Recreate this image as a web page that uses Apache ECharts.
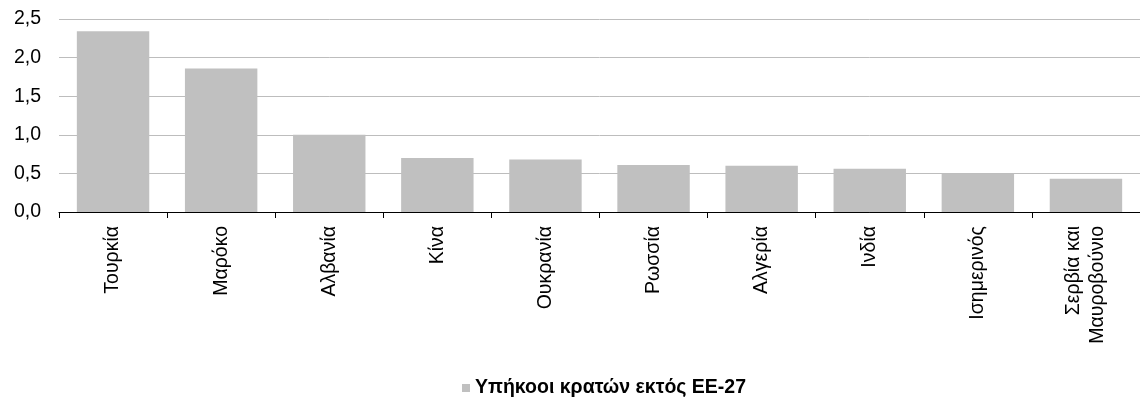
<!DOCTYPE html>
<html>
<head>
<meta charset="utf-8">
<script src="https://cdn.jsdelivr.net/npm/echarts@6/dist/echarts.min.js"></script>
<style>
  html, body { margin: 0; padding: 0; background: #fff; }
  #chart { width: 1140px; height: 405px; }
</style>
</head>
<body>
<div id="chart"></div>
<script>
const categories = ['Τουρκία', 'Μαρόκο', 'Αλβανία', 'Κίνα', 'Ουκρανία', 'Ρωσσία', 'Αλγερία', 'Ινδία', 'Ισημερινός', 'Σερβία και\nΜαυροβούνιο'];
const values = [2.34, 1.86, 1.00, 0.70, 0.68, 0.61, 0.60, 0.56, 0.50, 0.43];
const seriesName = 'Υπήκοοι κρατών εκτός ΕΕ-27';

const FONT = '"Liberation Sans", Arial, sans-serif';
const chart = echarts.init(document.getElementById('chart'), null, { renderer: 'canvas' });
chart.setOption({
  animation: false,
  textStyle: { fontFamily: FONT },
  grid: { left: 59, right: 0, top: 19, bottom: 193, containLabel: false },
  legend: {
    data: [seriesName],
    left: 462,
    top: 378,
    icon: 'rect',
    itemWidth: 8,
    itemHeight: 8,
    itemGap: 5,
    padding: 0,
    textStyle: { fontSize: 19.5, fontWeight: 'bold', color: '#000', fontFamily: FONT, padding: [0, 0, 0, 0] }
  },
  xAxis: {
    type: 'category',
    data: categories,
    boundaryGap: true,
    axisLine: { lineStyle: { color: '#000', width: 1 } },
    axisTick: { show: true, length: 6, lineStyle: { color: '#000' } },
    axisLabel: {
      interval: 0,
      rotate: 90,
      margin: 14,
      fontSize: 19.5,
      color: '#000',
      lineHeight: 24
    }
  },
  yAxis: {
    type: 'value',
    min: 0,
    max: 2.5,
    interval: 0.5,
    axisLine: { show: false },
    axisTick: { show: false },
    splitLine: { lineStyle: { color: '#bdbdbd', width: 1 } },
    axisLabel: {
      margin: 18,
      fontSize: 19.5,
      color: '#000',
      formatter: v => v.toFixed(1).replace('.', ',')
    }
  },
  series: [{
    name: seriesName,
    type: 'bar',
    data: values,
    barCategoryGap: '33%',
    itemStyle: { color: '#c0c0c0' }
  }]
});
</script>
</body>
</html>
